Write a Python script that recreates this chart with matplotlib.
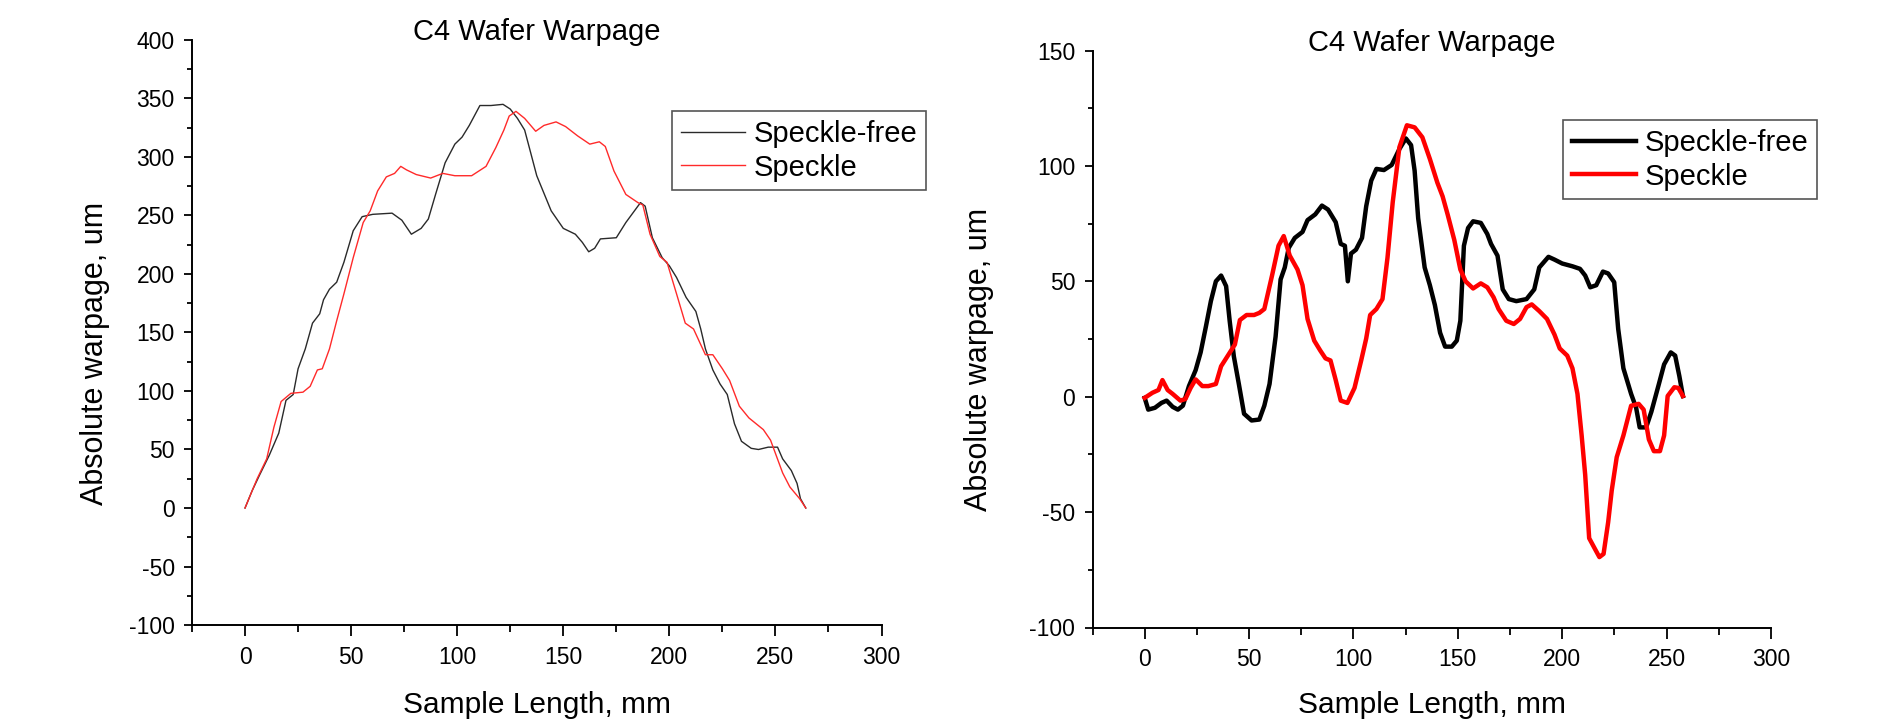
import matplotlib
matplotlib.use("Agg")
import matplotlib.pyplot as plt
from matplotlib.ticker import MultipleLocator

plt.rcParams['font.family'] = ['Liberation Sans', 'DejaVu Sans']
plt.rcParams['axes.unicode_minus'] = False

TITLE = "C4 Wafer Warpage"
XLABEL = "Sample Length, mm"
YLABEL = "Absolute warpage, um"
LABELS = ["Speckle-free", "Speckle"]

# ---- Left panel data ----
left_free_x = [0, 3.4, 6.8, 11.4, 15.9, 19.3, 22.7, 25, 28.4, 31.8, 35.2, 37, 39.8, 43.2, 46.6, 51,
               55.2, 60.2, 69.3, 73.9, 78.4, 83, 86.4, 89.8, 94.3, 98.9, 102.3, 105.7, 110.7, 115.9,
               121.6, 125, 128.4, 131.8, 134, 137.5, 144.3, 150, 155.7, 159, 162, 164.8, 167.5, 175,
               179.5, 186.4, 188.6, 192, 196.6, 200, 203.4, 207.9, 212.5, 214.8, 217, 220.5, 223.9,
               227.3, 230.7, 234, 238.6, 242, 246.6, 251, 253.4, 257.5, 260.2, 261.8, 264.3]
left_free_y = [0, 15, 28, 45, 64, 92, 97, 119, 136, 158, 166, 178, 187, 193, 210, 237,
               249, 251, 252, 246, 234, 239, 247, 268, 295, 311, 317, 327, 344, 344,
               345, 341, 333, 323, 308, 284, 254, 239, 234, 227, 219, 222, 230, 231,
               244, 261, 258, 231, 214, 207, 197, 180, 168, 153, 136, 118, 106,
               97, 72, 57, 51, 50, 52, 52, 42, 32, 21, 8, 0]

left_speckle_x = [0, 5.7, 10.2, 13.6, 17, 21.6, 27.3, 30.7, 34.1, 36.4, 39.8, 43.2, 46.6, 51, 55.7,
                  59, 62.5, 66.6, 70.5, 73.4, 76.1, 80.7, 87.5, 93.2, 98.9, 106.8, 113.6, 118.2, 122,
                  124.5, 127.7, 131.8, 137, 140.9, 146.6, 151.1, 156.8, 162.5, 167, 169.8, 173.9,
                  179.5, 185.2, 187.5, 190.9, 195.5, 198.9, 203.4, 207.5, 211.4, 217, 220.5, 225,
                  228.4, 233, 237.5, 244.3, 247.7, 253.4, 256.8, 261.4, 264.3]
left_speckle_y = [0, 25, 42, 69, 91, 98, 99, 104, 118, 119, 136, 160, 183, 214, 244,
                  254, 271, 283, 286, 292, 289, 285, 282, 286, 284, 284, 292, 308, 323,
                  335, 339, 333, 322, 327, 330, 326, 318, 311, 313, 309, 288,
                  268, 261, 259, 234, 215, 210, 183, 158, 153, 131, 131, 119,
                  109, 87, 77, 67, 58, 30, 18, 8, 0]

# ---- Right panel data ----
right_free_x = [0, 1.7, 4.9, 8, 10.5, 13.4, 15.9, 18.3, 21.2, 24.4, 26.8, 29.3, 31.7, 34.1, 36.6,
                39, 40.7, 42.7, 45.1, 47.6, 51.2, 54.9, 57.3, 59.8, 62.7, 65.1, 67.1, 69, 71.9,
                75.6, 78, 81.7, 84.9, 87.8, 91.5, 93.9, 95.9, 97.3, 98.8, 101.2, 104.1, 106.1,
                108.5, 111, 114.6, 118.3, 122, 125.1, 127.6, 129.3, 131, 134.1, 136.6, 139, 141.5,
                143.9, 147.1, 149.5, 151.2, 152.9, 154.9, 157.3, 161, 164.1, 165.9, 169, 171.5,
                174.4, 178, 182.9, 186.6, 189, 193.4, 196.3, 200, 204.9, 208.5, 211, 213.4, 216.3,
                219.5, 222, 224.9, 226.8, 229.3, 233, 235.4, 237.1, 240.2, 242.7, 246.3, 248.8,
                252, 254.1, 256.1, 257.8]
right_free_y = [-0.5, -5.6, -4.8, -2.7, -1.7, -4.4, -5.6, -3.9, 4.6, 11.5, 19.2, 30.3, 41.4, 50, 52.5,
                47.9, 32.9, 17.5, 5.5, -7.4, -10.3, -9.9, -3.9, 5.5, 26, 50.8, 56, 64.5, 68.8,
                71.4, 76.5, 79, 82.8, 81.1, 75.6, 66.2, 65.4, 50, 62, 63.7, 68.8, 82.5,
                93.6, 98.7, 98.2, 100.4, 107.3, 111.9, 109, 97.9, 77.3, 56, 48.3, 39.7, 27.7,
                21.7, 21.7, 24.3, 32.9, 65.4, 73.1, 76, 75.3, 70.5, 66.2, 61.1, 46.5,
                42.3, 41.4, 42.3, 46.5, 56, 60.6, 59.4, 57.7, 56.5, 55.4, 52.5, 47.4, 48.3,
                54.2, 53.4, 49.6, 29.4, 12.3, 1.2, -4.8, -13.3, -13.3, -6.5, 5.5, 14,
                19.2, 17.8, 8.9, 0.3]

right_speckle_x = [0, 3.7, 6.6, 8.5, 11, 13.4, 17.1, 19.5, 22, 24.4, 27.6, 30.5, 34.1, 36.6, 40.2,
                   43.2, 45.6, 48.8, 52.4, 54.9, 57.3, 61, 64.1, 66.6, 69.5, 73.2, 75.6, 78, 81.2,
                   84.1, 86.6, 89, 91.5, 93.9, 97.1, 100.5, 103.7, 106.1, 108, 111, 113.9, 116.3,
                   118.8, 122, 125.6, 129.3, 133, 136.6, 140.2, 142.7, 145.1, 148.3, 151.2, 153.7,
                   157.3, 161, 164.1, 167.1, 169.5, 173.2, 176.8, 179.8, 182.9, 185.4, 189, 192.7,
                   196.3, 198.8, 202.4, 204.9, 207.3, 209.3, 211, 212.9, 215.4, 217.8, 219.8, 222,
                   223.7, 226.1, 229.3, 233, 236.6, 239, 241.5, 243.9, 246.8, 248.8, 250.5, 253.7,
                   255.6, 257.8]
right_speckle_y = [-0.5, 1.7, 2.9, 7.2, 2.9, 1.2, -1.7, -1, 3.8, 7.5, 4.6, 4.6, 5.5, 13.2, 18.3,
                   22.6, 33.2, 35.4, 35.4, 36.3, 38, 52.5, 65.4, 69.6, 61.1, 55.1, 48.3, 33.7, 24.3,
                   20, 16.6, 15.7, 7.2, -1.7, -2.7, 3.8, 15.7, 25.2, 35.4, 38, 42.3, 60.2,
                   84.2, 108.1, 117.6, 116.7, 112.4, 103, 92.7, 86.8, 79, 67.9, 55.1, 50,
                   46.9, 49.1, 47.4, 43.1, 38, 32.9, 31.5, 33.7, 38.8, 40, 37.1, 33.7,
                   26.9, 20.9, 17.8, 12.3, 1.2, -16.8, -33.9, -61.3, -65.5, -69.5, -68.1, -54.4,
                   -40.7, -26.2, -16.8, -3.9, -3.1, -5.6, -18.5, -23.6, -23.6, -16.8, 0.3, 4.1,
                   3.8, 0.3]

LEFT_YTICKS = [-100, -50, 0, 50, 100, 150, 200, 250, 300, 350, 400]
RIGHT_YTICKS = [-100, -50, 0, 50, 100, 150]
XTICKS = [0, 50, 100, 150, 200, 250, 300]

W, H = 1897, 728
fig = plt.figure(figsize=(W / 100, H / 100), dpi=100)

ax1 = fig.add_axes([192 / W, 1 - 625 / H, 689.5 / W, 585 / H])
ax2 = fig.add_axes([1092.5 / W, 1 - 627.5 / H, 678.5 / W, 577 / H])

ax1.plot(left_free_x, left_free_y, color='#2a2a2a', lw=1.0, label=LABELS[0])
ax1.plot(left_speckle_x, left_speckle_y, color='#ff2a2a', lw=1.0, label=LABELS[1])
ax2.plot(right_free_x, right_free_y, color='black', lw=3.2, label=LABELS[0])
ax2.plot(right_speckle_x, right_speckle_y, color='#ff0000', lw=3.2, label=LABELS[1])

ax1.set_ylim(-100, 400)
ax2.set_ylim(-100, 150)
ax1.set_yticks(LEFT_YTICKS)
ax2.set_yticks(RIGHT_YTICKS)

for ax, yb, lab_x, leg_xy in [(ax1, -0.1504, -0.1287, (672, 111)),
                              (ax2, -0.148, -0.156, (1563, 120))]:
    ax.set_xlim(-25, 300)
    ax.set_xticks(XTICKS)
    ax.xaxis.set_minor_locator(MultipleLocator(25))
    ax.yaxis.set_minor_locator(MultipleLocator(25))
    for s in ['top', 'right']:
        ax.spines[s].set_visible(False)
    for s in ['left', 'bottom']:
        ax.spines[s].set_linewidth(1.4)
    ax.tick_params(axis='x', which='major', direction='out', length=8, width=1.3,
                   pad=7, labelsize=16.5)
    ax.tick_params(axis='x', which='minor', direction='out', length=5, width=1.3)
    ax.tick_params(axis='y', which='major', direction='out', length=6, width=1.3,
                   pad=6.5, labelsize=16.5)
    ax.tick_params(axis='y', which='minor', direction='out', length=3.5, width=1.3)
    ax.text(0.5, 1.0, TITLE, transform=ax.transAxes, ha='center', va='baseline',
            fontsize=21)
    ax.set_xlabel(XLABEL, fontsize=21.5)
    ax.xaxis.label.set_va('baseline')
    ax.xaxis.set_label_coords(0.5, yb)
    ax.set_ylabel(YLABEL, fontsize=22)
    ax.yaxis.label.set_va('baseline')
    ax.yaxis.set_label_coords(lab_x, 0.465)
    leg = ax.legend(loc='upper left', bbox_to_anchor=(leg_xy[0] / W, 1 - leg_xy[1] / H),
                    bbox_transform=fig.transFigure, borderaxespad=0, fontsize=21,
                    fancybox=False, frameon=True, framealpha=1, edgecolor='#555555',
                    handlelength=2.2, handletextpad=0.3, borderpad=0.3, labelspacing=0.2)
    leg.get_frame().set_linewidth(1.2)

fig.savefig("out.png", dpi=100)
